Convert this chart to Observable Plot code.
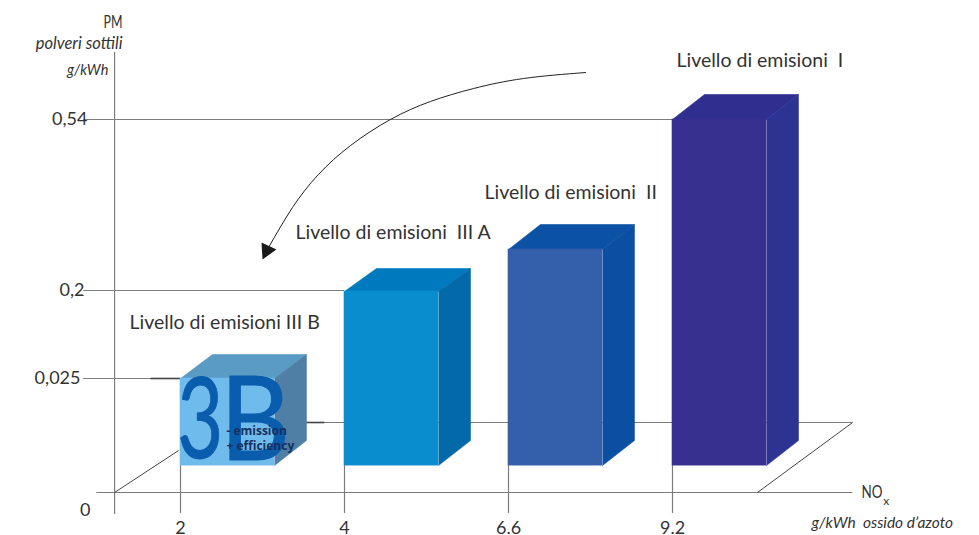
<!DOCTYPE html>
<html><head><meta charset="utf-8">
<script src="https://cdn.jsdelivr.net/npm/d3@7"></script>
<script src="https://cdn.jsdelivr.net/npm/@observablehq/plot@0.6"></script>
<style>html,body{margin:0;padding:0;background:#fff;overflow:hidden}svg{display:block}</style>
</head><body><div id="chart"></div>
<script>
// x is the position of the NOx class (0..3), y is PM in g/kWh
const xPositions = [0, 1, 2, 3];
const xLabels = ["2", "4", "6.6", "9.2"];
const yTicks = [0.54, 0.2, 0.025];
const yLabels = ["0,54", "0,2", "0,025"];
const yLabelX = [-0.567, -0.585, -0.61];
const barValues = [0.025, 0.198, 0.2815, 0.54];
const barBackValues = [0.0727, 0.2437, 0.3312, 0.5897];
const frontColors = ["#6fbbec", "#0a8dcf", "#345fab", "#37308f"];
const topColors = ["#5a9bc3", "#0179bf", "#0b52a6", "#302f90"];
const sideColors = ["#4f7fa5", "#0469a8", "#0b4fa2", "#2c3393"];
const barWidth = 0.573, barDepth = 0.195, floorFront = 0.0059, floorBack = 0.0114;
const levelNames = ["Livello di emisioni  I", "Livello di emisioni  II", "Livello di emisioni  III A", "Livello di emisioni III B"];
const levelX = [3.024, 1.854, 0.701, -0.311];
const levelY = [0.657, 0.395, 0.315, 0.136];
const arrowX = [2.47, 2.091, 1.787, 1.524, 1.28, 1.037, 0.841, 0.683, 0.537];
const arrowY = [0.6334, 0.6215, 0.6016, 0.5758, 0.54, 0.4883, 0.4307, 0.365, 0.2855];
const headX = [0.494, 0.585, 0.5];
const headY = [0.2954, 0.2815, 0.2616];

const bars = xPositions.map((x, i) => ({x, v: barValues[i], b: barBackValues[i], i}));
const faces = bars.flatMap(d => {
  const x2 = d.x + barWidth, xb = d.x + barDepth, xb2 = x2 + barDepth;
  return [
    [[d.x, d.v], [xb, d.b], [xb2, d.b], [x2, d.v]].map(p => ({x: p[0], y: p[1], id: "t" + d.i, c: topColors[d.i]})),
    [[x2, d.v], [xb2, d.b], [xb2, floorBack], [x2, floorFront]].map(p => ({x: p[0], y: p[1], id: "s" + d.i, c: sideColors[d.i]}))
  ];
}).flat();
const arrow = arrowX.map((x, i) => ({x, y: arrowY[i]}));
const head = headX.map((x, i) => ({x, y: headY[i]}));
const grey = "#7d7d7d";
const ink = "#333";

const plot = Plot.plot({
  width: 979, height: 535, margin: 0, marginBottom: 20,
  x: {type: "linear", domain: [0, 3], range: [180, 672]},
  y: {type: "linear", domain: [0, 0.025, 0.2, 0.54], range: [492, 378, 290, 119]},
  color: {type: "identity"},
  style: {fontFamily: "Lato", background: "#fff", color: ink},
  marks: [
    // frame lines
    Plot.ruleY(yTicks, {x1: -0.59, x2: (d) => d === 0.54 ? 3 : d === 0.2 ? 1 : 0, stroke: grey, strokeWidth: 1.2}),
    Plot.ruleY([0], {x1: -0.51, x2: 4.1, stroke: grey, strokeWidth: 1.2}),
    Plot.ruleX([-0.402], {y1: -0.0048, y2: 0.673, stroke: grey, strokeWidth: 1.2}),
    Plot.ruleX(xPositions, {y1: -0.0046, y2: floorFront, stroke: grey, strokeWidth: 1.2}),
    Plot.ruleY([0.01535], {x1: 0.76, x2: 4.1, stroke: grey, strokeWidth: 1.2}),
    Plot.ruleY([0.01535], {x1: 0.76, x2: 0.88, stroke: "#444", strokeWidth: 1.6}),
    Plot.ruleY([0.025], {x1: -0.18, x2: 0, stroke: "#444", strokeWidth: 1.6}),
    Plot.link([0], {x1: -0.402, y1: 0, x2: -0.012, y2: 0.0092, stroke: "#444"}),
    Plot.link([0], {x1: 3.518, y1: 0, x2: 4.098, y2: 0.01535, stroke: "#444"}),
    // bars
    Plot.line(faces, {x: "x", y: "y", z: "id", fill: "c", stroke: "c", strokeWidth: 0.6}),
    Plot.rect(bars, {x1: "x", x2: d => d.x + barWidth, y1: floorFront, y2: "v", fill: d => frontColors[d.i], stroke: d => frontColors[d.i], strokeWidth: 0.6}),
    // logo
    Plot.text(["3"], {x: 0.12, y: 0.01535, text: d => d, fontSize: 112, fill: "#0a5cad", stroke: "#0a5cad", strokeWidth: 1, className: "logo3", textAnchor: "middle"}),
    Plot.text(["B"], {x: 0.455, y: 0.01535, text: d => d, fontSize: 116, fill: "#0a5cad", stroke: "#0a5cad", strokeWidth: 1, className: "logoB", textAnchor: "middle"}),
    Plot.text(["- emission"], {x: 0.28, y: 0.01338, text: d => d, textAnchor: "start", fontSize: 12, fontWeight: 700, fontFamily: "Open Sans", fill: "#16305f"}),
    Plot.text(["+ efficiency"], {x: 0.28, y: 0.0101, text: d => d, textAnchor: "start", fontSize: 12, fontWeight: 700, fontFamily: "Open Sans", fill: "#16305f"}),
    // arrow
    Plot.line(arrow, {x: "x", y: "y", curve: "natural", stroke: "#222", strokeWidth: 1}),
    Plot.line(head, {x: "x", y: "y", fill: "#1a1a1a", stroke: "none"}),
    // labels
    Plot.text(levelNames, {x: (d, i) => levelX[i], y: (d, i) => levelY[i], text: d => d, textAnchor: "start", fontSize: 19.5, fill: ink}),
    Plot.text(yLabels, {x: (d, i) => yLabelX[i], y: (d, i) => yTicks[i], text: d => d, textAnchor: "end", fontSize: 18, fill: ink}),
    Plot.text(["0"], {x: -0.549, y: -0.0039, text: d => d, textAnchor: "end", fontSize: 18, fill: ink}),
    Plot.axisX({ticks: xPositions, tickFormat: i => xLabels[i], tickSize: 0, tickPadding: 6, fontSize: 18, label: null, fill: ink, anchor: "bottom"}),
    Plot.text(["PM"], {x: -0.354, y: 0.732, text: d => d, textAnchor: "end", fontSize: 17, fill: ink, className: "pm"}),
    Plot.text(["polveri sottili"], {x: -0.354, y: 0.69, text: d => d, textAnchor: "end", fontSize: 16.5, fontStyle: "italic", fill: ink}),
    Plot.text(["g/kWh"], {x: -0.44, y: 0.637, text: d => d, textAnchor: "end", fontSize: 14.5, fontStyle: "italic", fill: ink}),
    Plot.text(["NO"], {x: 4.152, y: 0, text: d => d, textAnchor: "start", fontSize: 18, fill: ink, className: "no"}),
    Plot.text(["x"], {x: 4.285, y: -0.0018, text: d => d, textAnchor: "start", fontSize: 12, fill: ink}),
    Plot.text(["g/kWh  ossido d\u2019azoto"], {x: 3.848, y: -0.0066, text: d => d, textAnchor: "start", fontSize: 15.5, fontStyle: "italic", fill: ink})
  ]
});
const squeeze = (cls, len) => d3.select(plot).selectAll(cls + " text").attr("textLength", len).attr("lengthAdjust", "spacingAndGlyphs");
squeeze(".logo3", 46);
squeeze(".logoB", 70);
squeeze(".pm", 19);
squeeze(".no", 21);
document.getElementById("chart").append(plot);
</script></body></html>
